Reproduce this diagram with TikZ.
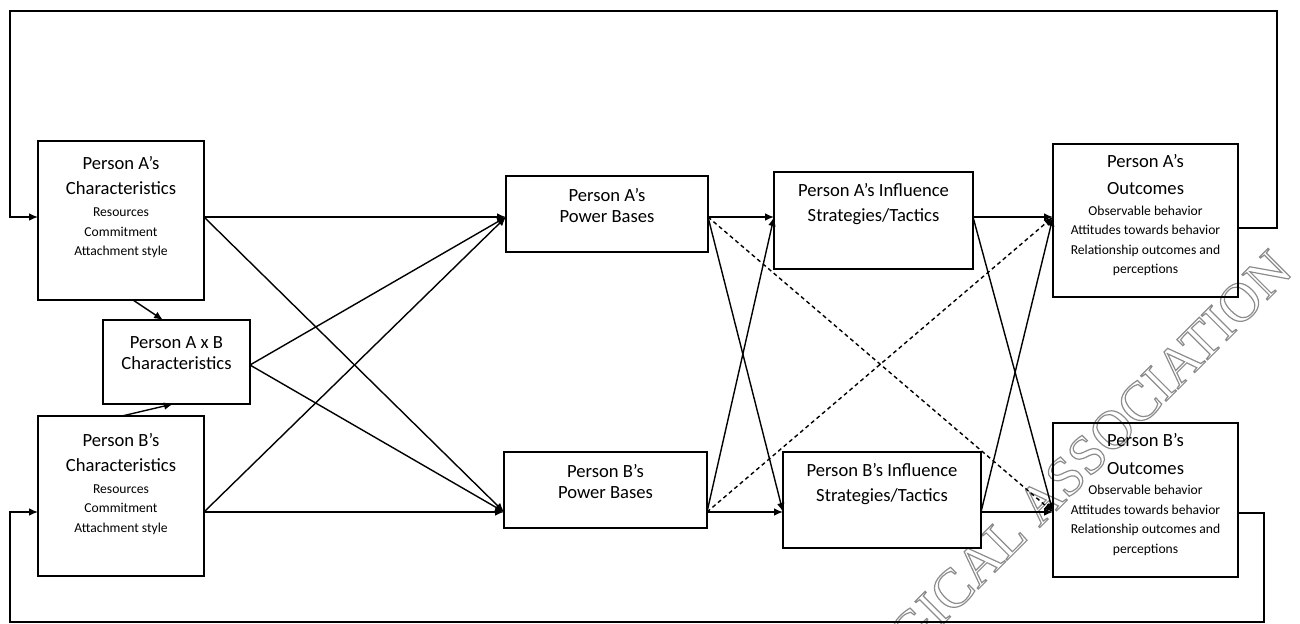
\documentclass[tikz,border=0pt]{standalone}
\usepackage{fontspec}
\setmainfont{Carlito}
\newfontfamily\wmfont{Liberation Serif}
\usetikzlibrary{arrows.meta,fit}

\begin{document}
\begin{tikzpicture}[x=0.5pt, y=-0.5pt,
    box/.style={draw, line width=0.7pt, inner sep=0pt},
    headtxt/.style={anchor=base, align=center, font=\fontsize{9.3}{12.5}\selectfont},
    headtxtb/.style={headtxt, font=\fontsize{9.3}{10.5}\selectfont},
    headtxtc/.style={headtxt, font=\fontsize{9.3}{13.5}\selectfont},
    detailtxt/.style={anchor=base, align=center, font=\fontsize{6.8}{9.75}\selectfont},
    arr/.style={line width=0.7pt, -{Latex[length=4.5pt,width=3.8pt]}},
    dsh/.style={arr, dash pattern=on 2pt off 1.6pt}]
    \useasboundingbox (0,0) rectangle (1300,624);
    % watermark
    \node[rotate=45, text=black!45, font=\wmfont\fontsize{27.5}{27.5}\selectfont] (wm) at (1090,452)
        {\special{pdf:literal direct 1 Tr 0.6 w}GICAL ASSOCIATION\special{pdf:literal direct 0 Tr}};
    % characteristics (anchor base = last line)
    \node[box, fit={(38,141) (204,300)}] (charA) {};
    \node[headtxt] (charA-h) at (121,195) {Person A’s\\Characteristics};
    \node[detailtxt] (charA-d) at (121,256) {Resources\\Commitment\\Attachment style};
    \node[box, fit={(103,320) (250,404)}] (axb) {};
    \node[headtxtb] (axb-h) at (176.5,370) {Person A x B\\Characteristics};
    \node[box, fit={(38,416) (204,576)}] (charB) {};
    \node[headtxt] (charB-h) at (121,472) {Person B’s\\Characteristics};
    \node[detailtxt] (charB-d) at (121,532) {Resources\\Commitment\\Attachment style};
    % power bases
    \node[box, fit={(506,176) (708,252)}] (powA) {};
    \node[headtxtb] (powA-h) at (607,223) {Person A’s\\Power Bases};
    \node[box, fit={(504,452) (707,528)}] (powB) {};
    \node[headtxtb] (powB-h) at (605.5,499) {Person B’s\\Power Bases};
    % influence
    \node[box, fit={(774,172) (973,269)}] (infA) {};
    \node[headtxt] (infA-h) at (873.5,222) {Person A’s Influence\\Strategies/Tactics};
    \node[box, fit={(783,452) (981,548)}] (infB) {};
    \node[headtxt] (infB-h) at (882,502) {Person B’s Influence\\Strategies/Tactics};
    % outcomes
    \node[box, fit={(1053,144) (1238,297)}] (outA) {};
    \node[headtxtc] (outA-h) at (1145.5,195) {Person A’s\\Outcomes};
    \node[detailtxt] (outA-d) at (1145.5,274) {Observable behavior\\Attitudes towards behavior\\Relationship outcomes and\\perceptions};
    \node[box, fit={(1053,423) (1238,577)}] (outB) {};
    \node[headtxtc] (outB-h) at (1145.5,474) {Person B’s\\Outcomes};
    \node[detailtxt] (outB-d) at (1145.5,553) {Observable behavior\\Attitudes towards behavior\\Relationship outcomes and\\perceptions};
    % ports
    \coordinate (charA-i) at (38,217);
    \coordinate (charA-o) at (204,217);
    \coordinate (charA-b) at (133,300);
    \coordinate (charB-i) at (38,512);
    \coordinate (charB-o) at (204,512);
    \coordinate (charB-t) at (122,416);
    \coordinate (axb-t) at (163,320);
    \coordinate (axb-b) at (173,404);
    \coordinate (axb-o) at (250,365);
    \coordinate (powA-i) at (506,217);
    \coordinate (powA-o) at (708,217);
    \coordinate (powB-i) at (504,512);
    \coordinate (powB-o) at (707,512);
    \coordinate (infA-i) at (774,217);
    \coordinate (infA-o) at (973,217);
    \coordinate (infB-i) at (783,512);
    \coordinate (infB-o) at (981,512);
    \coordinate (outA-i) at (1053,217);
    \coordinate (outA-r) at (1238,228);
    \coordinate (outB-i) at (1053,512);
    \coordinate (outB-r) at (1238,513);
    \coordinate (fbA-1) at (1277,11);
    \coordinate (fbA-2) at (10,217);
    \coordinate (fbB-1) at (1264,622);
    \coordinate (fbB-2) at (10,512);
    % characteristics -> power bases
    \path[draw, arr] (charA-o) -- (powA-i);
    \path[draw, arr] (charA-o) -- (powB-i);
    \path[draw, arr] (charB-o) -- (powB-i);
    \path[draw, arr] (charB-o) -- (powA-i);
    \path[draw, arr] (axb-o) -- (powA-i);
    \path[draw, arr] (axb-o) -- (powB-i);
    \path[draw, arr] (charA-b) -- (axb-t);
    \path[draw, arr] (charB-t) -- (axb-b);
    % power bases -> influence
    \path[draw, arr] (powA-o) -- (infA-i);
    \path[draw, arr] (powA-o) -- (infB-i);
    \path[draw, arr] (powB-o) -- (infB-i);
    \path[draw, arr] (powB-o) -- (infA-i);
    \path[draw, dsh] (powA-o) -- (outB-i);
    \path[draw, dsh] (powB-o) -- (outA-i);
    % influence -> outcomes
    \path[draw, arr] (infA-o) -- (outA-i);
    \path[draw, arr] (infA-o) -- (outB-i);
    \path[draw, arr] (infB-o) -- (outB-i);
    \path[draw, arr] (infB-o) -- (outA-i);
    % feedback
    \path[draw, arr] (outA-r) -| (fbA-1) -| (fbA-2) -- (charA-i);
    \path[draw, arr] (outB-r) -| (fbB-1) -| (fbB-2) -- (charB-i);
\end{tikzpicture}
\end{document}
